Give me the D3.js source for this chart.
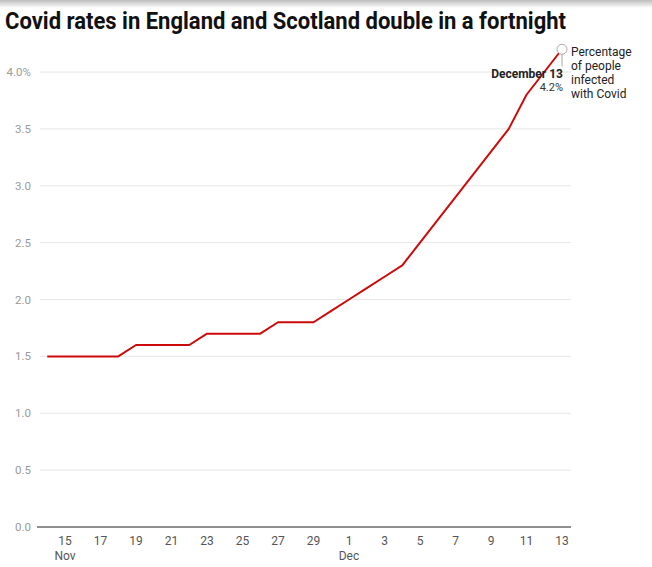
<!DOCTYPE html>
<html>
<head>
<meta charset="utf-8">
<script src="https://cdn.jsdelivr.net/npm/d3@7"></script>
<style>
  html, body { margin: 0; padding: 0; background: #fff; }
  svg { display: block; font-family: Roboto, "Noto Sans", sans-serif; }
</style>
</head>
<body>
<svg id="chart" width="652" height="567"></svg>
<script>
// ---- data ----
const dates = [
  "2020-11-14","2020-11-15","2020-11-16","2020-11-17","2020-11-18","2020-11-19","2020-11-20",
  "2020-11-21","2020-11-22","2020-11-23","2020-11-24","2020-11-25","2020-11-26","2020-11-27",
  "2020-11-28","2020-11-29","2020-11-30","2020-12-01","2020-12-02","2020-12-03","2020-12-04",
  "2020-12-05","2020-12-06","2020-12-07","2020-12-08","2020-12-09","2020-12-10","2020-12-11",
  "2020-12-12","2020-12-13"
];
const infected = [
  1.5,1.5,1.5,1.5,1.5,1.6,1.6,
  1.6,1.6,1.7,1.7,1.7,1.7,1.8,
  1.8,1.8,1.9,2.0,2.1,2.2,2.3,
  2.5,2.7,2.9,3.1,3.3,3.5,3.8,
  4.0,4.2
];
const yTicks = [0, 0.5, 1.0, 1.5, 2.0, 2.5, 3.0, 3.5, 4.0];
const xTickDates = [
  "2020-11-15","2020-11-17","2020-11-19","2020-11-21","2020-11-23","2020-11-25","2020-11-27",
  "2020-11-29","2020-12-01","2020-12-03","2020-12-05","2020-12-07","2020-12-09","2020-12-11","2020-12-13"
];
const monthLabels = [["2020-11-15","Nov"],["2020-12-01","Dec"]];
const title = "Covid rates in England and Scotland double in a fortnight";
const annotationDate = "December 13";
const annotationValue = "4.2%";
const seriesLabel = ["Percentage", "of people", "infected", "with Covid"];

// ---- drawing ----
const parse = d3.utcParse("%Y-%m-%d");
const data = dates.map((d, i) => ({ date: parse(d), value: infected[i] }));

const svg = d3.select("#chart");

// top shadow
const defs = svg.append("defs");
const grad = defs.append("linearGradient").attr("id", "shadow")
  .attr("x1", 0).attr("y1", 0).attr("x2", 0).attr("y2", 1);
grad.append("stop").attr("offset", "0%").attr("stop-color", "#bdbdbd");
grad.append("stop").attr("offset", "100%").attr("stop-color", "#ffffff");
svg.append("rect").attr("x", 0).attr("y", 0).attr("width", 652).attr("height", 8)
  .attr("fill", "url(#shadow)");

svg.append("text")
  .attr("x", 5).attr("y", 29)
  .attr("font-size", 23).attr("font-weight", 700).attr("fill", "#111")
  .attr("textLength", 561).attr("lengthAdjust", "spacingAndGlyphs")
  .text(title);

const x = d3.scaleUtc()
  .domain([parse("2020-11-14"), parse("2020-12-13")])
  .range([47.25, 562]);
const y = d3.scaleLinear().domain([0, 4]).range([527, 72]);

const plotLeft = 37, plotRight = 571;

// gridlines
svg.append("g").selectAll("line")
  .data(yTicks.filter(t => t > 0))
  .join("line")
  .attr("x1", plotLeft + 3).attr("x2", plotRight)
  .attr("y1", d => y(d)).attr("y2", d => y(d))
  .attr("stroke", "#e6e6e6").attr("stroke-width", 1);

// y labels
svg.append("g").selectAll("text")
  .data(yTicks)
  .join("text")
  .attr("x", 31).attr("y", d => y(d)).attr("dy", "0.35em")
  .attr("text-anchor", "end")
  .attr("font-size", 11.5).attr("fill", "#9a9a9a")
  .text(d => d3.format(".1f")(d) + (d === 4 ? "%" : ""));

// baseline axis
svg.append("line")
  .attr("x1", plotLeft).attr("x2", plotRight)
  .attr("y1", y(0)).attr("y2", y(0))
  .attr("stroke", "#6b6b6b").attr("stroke-width", 1.5);

// x tick labels
svg.append("g").selectAll("text")
  .data(xTickDates.map(parse))
  .join("text")
  .attr("x", d => x(d)).attr("y", 545)
  .attr("text-anchor", "middle")
  .attr("font-size", 12).attr("fill", "#555")
  .text(d => d3.utcFormat("%-d")(d));

svg.append("g").selectAll("text")
  .data(monthLabels)
  .join("text")
  .attr("x", d => x(parse(d[0]))).attr("y", 560)
  .attr("text-anchor", "middle")
  .attr("font-size", 12).attr("fill", "#555")
  .text(d => d[1]);

// line
const line = d3.line().x(d => x(d.date)).y(d => y(d.value));
svg.append("path")
  .datum(data)
  .attr("d", line)
  .attr("fill", "none")
  .attr("stroke", "#cc0a0a")
  .attr("stroke-width", 2)
  .attr("stroke-linejoin", "round");

// annotation
const last = data[data.length - 1];
const lx = x(last.date), ly = y(last.value);
svg.append("line")
  .attr("x1", lx).attr("x2", lx)
  .attr("y1", ly + 5).attr("y2", ly + 17)
  .attr("stroke", "#aaa").attr("stroke-width", 1);
svg.append("circle")
  .attr("cx", lx).attr("cy", ly).attr("r", 5)
  .attr("fill", "#fff").attr("stroke", "#aaa").attr("stroke-width", 1);

svg.append("text")
  .attr("x", lx + 1).attr("y", 78)
  .attr("text-anchor", "end")
  .attr("font-size", 12).attr("font-weight", 700).attr("fill", "#222")
  .text(annotationDate);
svg.append("text")
  .attr("x", lx + 1).attr("y", 91)
  .attr("text-anchor", "end")
  .attr("font-size", 11).attr("fill", "#333")
  .text(annotationValue);

svg.append("g").selectAll("text")
  .data(seriesLabel)
  .join("text")
  .attr("x", 571).attr("y", (d, i) => 56 + i * 14)
  .attr("font-size", 12).attr("fill", "#222")
  .text(d => d);
</script>
</body>
</html>
